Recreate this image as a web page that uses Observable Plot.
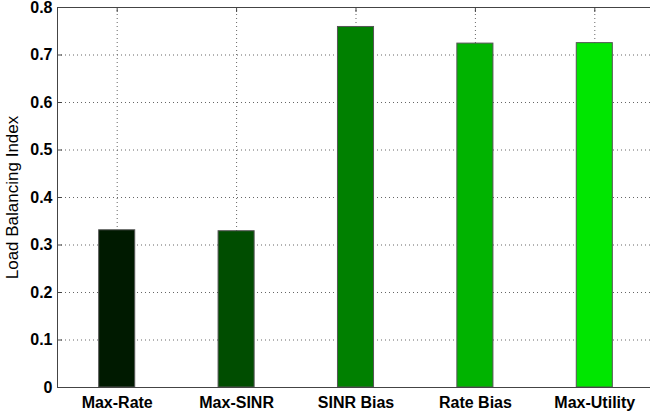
<!DOCTYPE html>
<html>
<head>
<meta charset="utf-8">
<script src="https://cdn.jsdelivr.net/npm/d3@7"></script>
<script src="https://cdn.jsdelivr.net/npm/@observablehq/plot@0.6"></script>
<style>
  html, body { margin: 0; padding: 0; background: #fff; overflow: hidden; }
</style>
</head>
<body>
<div id="chart"></div>
<script>
const categories = ["Max-Rate", "Max-SINR", "SINR Bias", "Rate Bias", "Max-Utility"];
const values = [0.331, 0.329, 0.759, 0.724, 0.725];
const colors = ["#001a00", "#004d00", "#008000", "#00b300", "#00e600"];
const yTicks = [0, 0.1, 0.2, 0.3, 0.4, 0.5, 0.6, 0.7, 0.8];
const yLabel = "Load Balancing Index";

const positions = categories.map((c, i) => i + 1);
const data = categories.map((c, i) => ({pos: i + 1, cat: c, value: values[i], color: colors[i]}));

const pxX = 1 / 119.4;
const pxY = 1 / 475;

const chart = Plot.plot({
  width: 650,
  height: 415,
  marginLeft: 57,
  marginRight: 0,
  marginTop: 7,
  marginBottom: 28,
  style: {fontFamily: "Liberation Sans, Arial, sans-serif", fontSize: "16px", fontWeight: "bold", color: "#000", background: "#fff"},
  x: {type: "linear", domain: [0.5, 5.5], range: [57, 654], ticks: positions, tickFormat: i => categories[i - 1], tickSize: 0, tickPadding: 9, label: null},
  y: {domain: [0, 0.8], ticks: yTicks, tickFormat: d => d === 0 ? "0" : d.toFixed(1), tickSize: 0, tickPadding: 5, label: null},
  color: {type: "identity"},
  marks: [
    Plot.ruleY(yTicks.slice(1, -1), {stroke: "#666", strokeDasharray: "1,3", strokeWidth: 1}),
    Plot.ruleX(positions, {y1: 0, y2: 0.8, stroke: "#666", strokeDasharray: "1,3", strokeWidth: 1}),
    Plot.rect(data, {x1: d => d.pos - 0.151, x2: d => d.pos + 0.151, y1: 0, y2: "value", fill: "color", stroke: "#555", strokeWidth: 1}),
    Plot.ruleY([0.8], {stroke: "#444", strokeWidth: 1}),
    Plot.ruleY([0], {stroke: "#444", strokeWidth: 1}),
    Plot.ruleX([0.5], {y1: 0, y2: 0.8, stroke: "#444", strokeWidth: 1}),
    Plot.ruleY(yTicks, {x1: 0.5, x2: 0.5 + 5 * pxX, stroke: "#444"}),
    Plot.ruleX(positions, {y1: 0.8, y2: 0.8 - 5 * pxY, stroke: "#444"}),
    Plot.text([yLabel], {frameAnchor: "left", textAnchor: "middle", rotate: -90, dx: -45, fontWeight: "normal", fontSize: "17px", fill: "#000"})
  ]
});

document.getElementById("chart").appendChild(chart);
</script>
</body>
</html>
